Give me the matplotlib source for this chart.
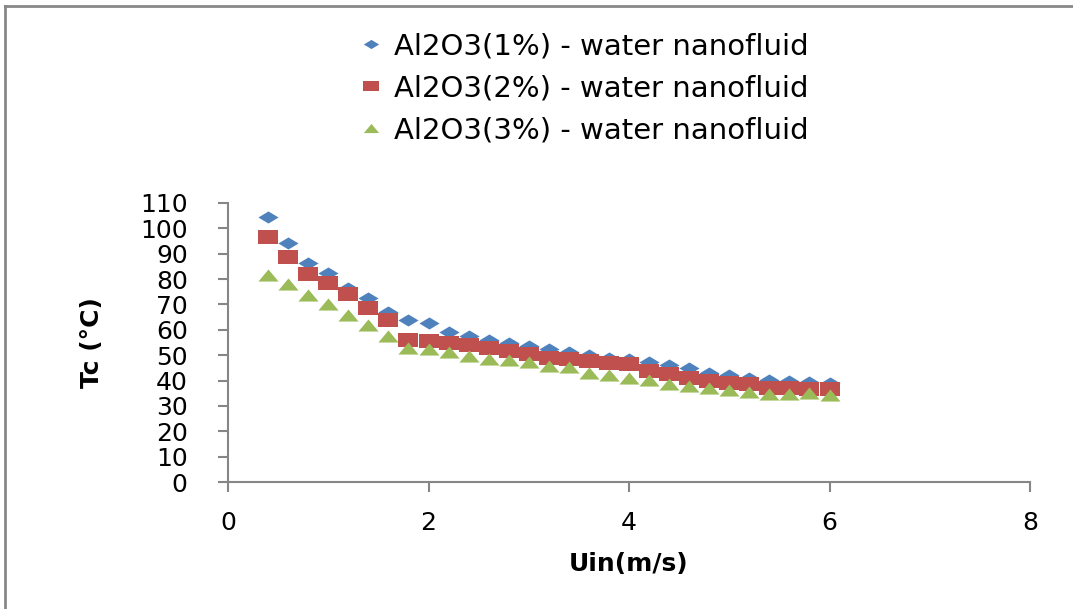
import matplotlib
matplotlib.use("Agg")
import matplotlib.pyplot as plt
from matplotlib.path import Path
from matplotlib.lines import Line2D

# ---- data ----
uin = [0.4, 0.6, 0.8, 1.0, 1.2, 1.4, 1.6, 1.8, 2.0, 2.2, 2.4, 2.6, 2.8, 3.0, 3.2,
       3.4, 3.6, 3.8, 4.0, 4.2, 4.4, 4.6, 4.8, 5.0, 5.2, 5.4, 5.6, 5.8, 6.0]
tc_1pct = [104.5, 94.2, 86.4, 82.4, 76.5, 72.5, 67.0, 64.0, 62.5, 59.1, 57.6, 56.0, 54.8,
           53.8, 52.4, 51.3, 50.1, 48.9, 48.3, 47.3, 46.3, 45.0, 43.0, 42.2, 41.0, 40.2,
           40.0, 39.4, 39.0]
tc_2pct = [96.5, 88.7, 82.0, 78.5, 74.1, 68.6, 63.9, 56.0, 55.5, 55.0, 54.2, 52.8, 51.6,
           50.5, 48.9, 48.5, 47.7, 46.9, 46.5, 43.8, 42.7, 41.0, 39.8, 39.0, 38.6, 37.2,
           36.9, 36.7, 36.5]
tc_3pct = [81.6, 78.0, 73.7, 70.2, 65.8, 61.9, 57.6, 53.0, 52.4, 51.3, 49.7, 48.5, 48.0,
           47.3, 45.7, 45.3, 43.0, 42.2, 41.0, 40.2, 38.5, 37.9, 37.0, 36.3, 35.5, 34.7,
           34.7, 35.0, 34.3]
labels = ["Al2O3(1%) - water nanofluid",
          "Al2O3(2%) - water nanofluid",
          "Al2O3(3%) - water nanofluid"]
xticks = [0, 2, 4, 6, 8]
yticks = list(range(0, 111, 10))

# ---- wide markers (Excel style) ----
diamond = Path([(-1, 0), (0, 0.6), (1, 0), (0, -0.6), (-1, 0)],
               [Path.MOVETO, Path.LINETO, Path.LINETO, Path.LINETO, Path.CLOSEPOLY])
square = Path([(-1, -0.68), (1, -0.68), (1, 0.68), (-1, 0.68), (-1, -0.68)],
              [Path.MOVETO, Path.LINETO, Path.LINETO, Path.LINETO, Path.CLOSEPOLY])
triangle = Path([(-1, -0.6), (1, -0.6), (0, 0.6), (-1, -0.6)],
                [Path.MOVETO, Path.LINETO, Path.LINETO, Path.CLOSEPOLY])

colors = ["#4F81BD", "#C0504D", "#9BBB59"]
markers = [diamond, square, triangle]
series = [tc_1pct, tc_2pct, tc_3pct]

plt.rcParams['font.family'] = ['DejaVu Sans']
fig = plt.figure(figsize=(10.73, 6.09), dpi=100)
ax = fig.add_axes([228 / 1073, (609 - 482) / 609, 802 / 1073, 279 / 609])

for y, c, m, lab in zip(series, colors, markers, labels):
    ax.plot(uin, y, linestyle='none', marker=m, markersize=14.5,
            markerfacecolor=c, markeredgecolor=c, markeredgewidth=0, label=lab)

ax.set_xlim(0, 8)
ax.set_ylim(0, 110)
ax.set_xticks(xticks)
ax.set_yticks(yticks)
for s in ['top', 'right']:
    ax.spines[s].set_visible(False)
for s in ['left', 'bottom']:
    ax.spines[s].set_color('#868686')
    ax.spines[s].set_linewidth(1.5)
ax.tick_params(axis='both', colors='#868686', labelcolor='black', labelsize=18,
               length=7, width=1.5, direction='out')
ax.tick_params(axis='y', pad=22)
ax.tick_params(axis='x', pad=14)
ax.set_xlabel("Uin(m/s)", fontsize=18, fontweight='bold', labelpad=12)
ax.set_ylabel("Tc (°C)", fontsize=18, fontweight='bold', labelpad=26)

handles = [Line2D([], [], linestyle='none', marker=m, markersize=11, markerfacecolor=c,
                  markeredgewidth=0) for c, m in zip(colors, markers)]
fig.legend(handles, labels, loc='upper left', bbox_to_anchor=(349 / 1073, 1 - 21 / 609),
           frameon=False, fontsize=21, handlelength=0.7, handletextpad=0.45,
           labelspacing=0.48, borderaxespad=0)

# outer chart border (top and left visible)
fig.add_artist(Line2D([5 / 1073, 1], [1 - 6 / 609, 1 - 6 / 609], color='#888888', lw=2,
                      transform=fig.transFigure))
fig.add_artist(Line2D([5 / 1073, 5 / 1073], [0, 1 - 6 / 609], color='#888888', lw=2,
                      transform=fig.transFigure))

fig.savefig("out.png", dpi=100)
